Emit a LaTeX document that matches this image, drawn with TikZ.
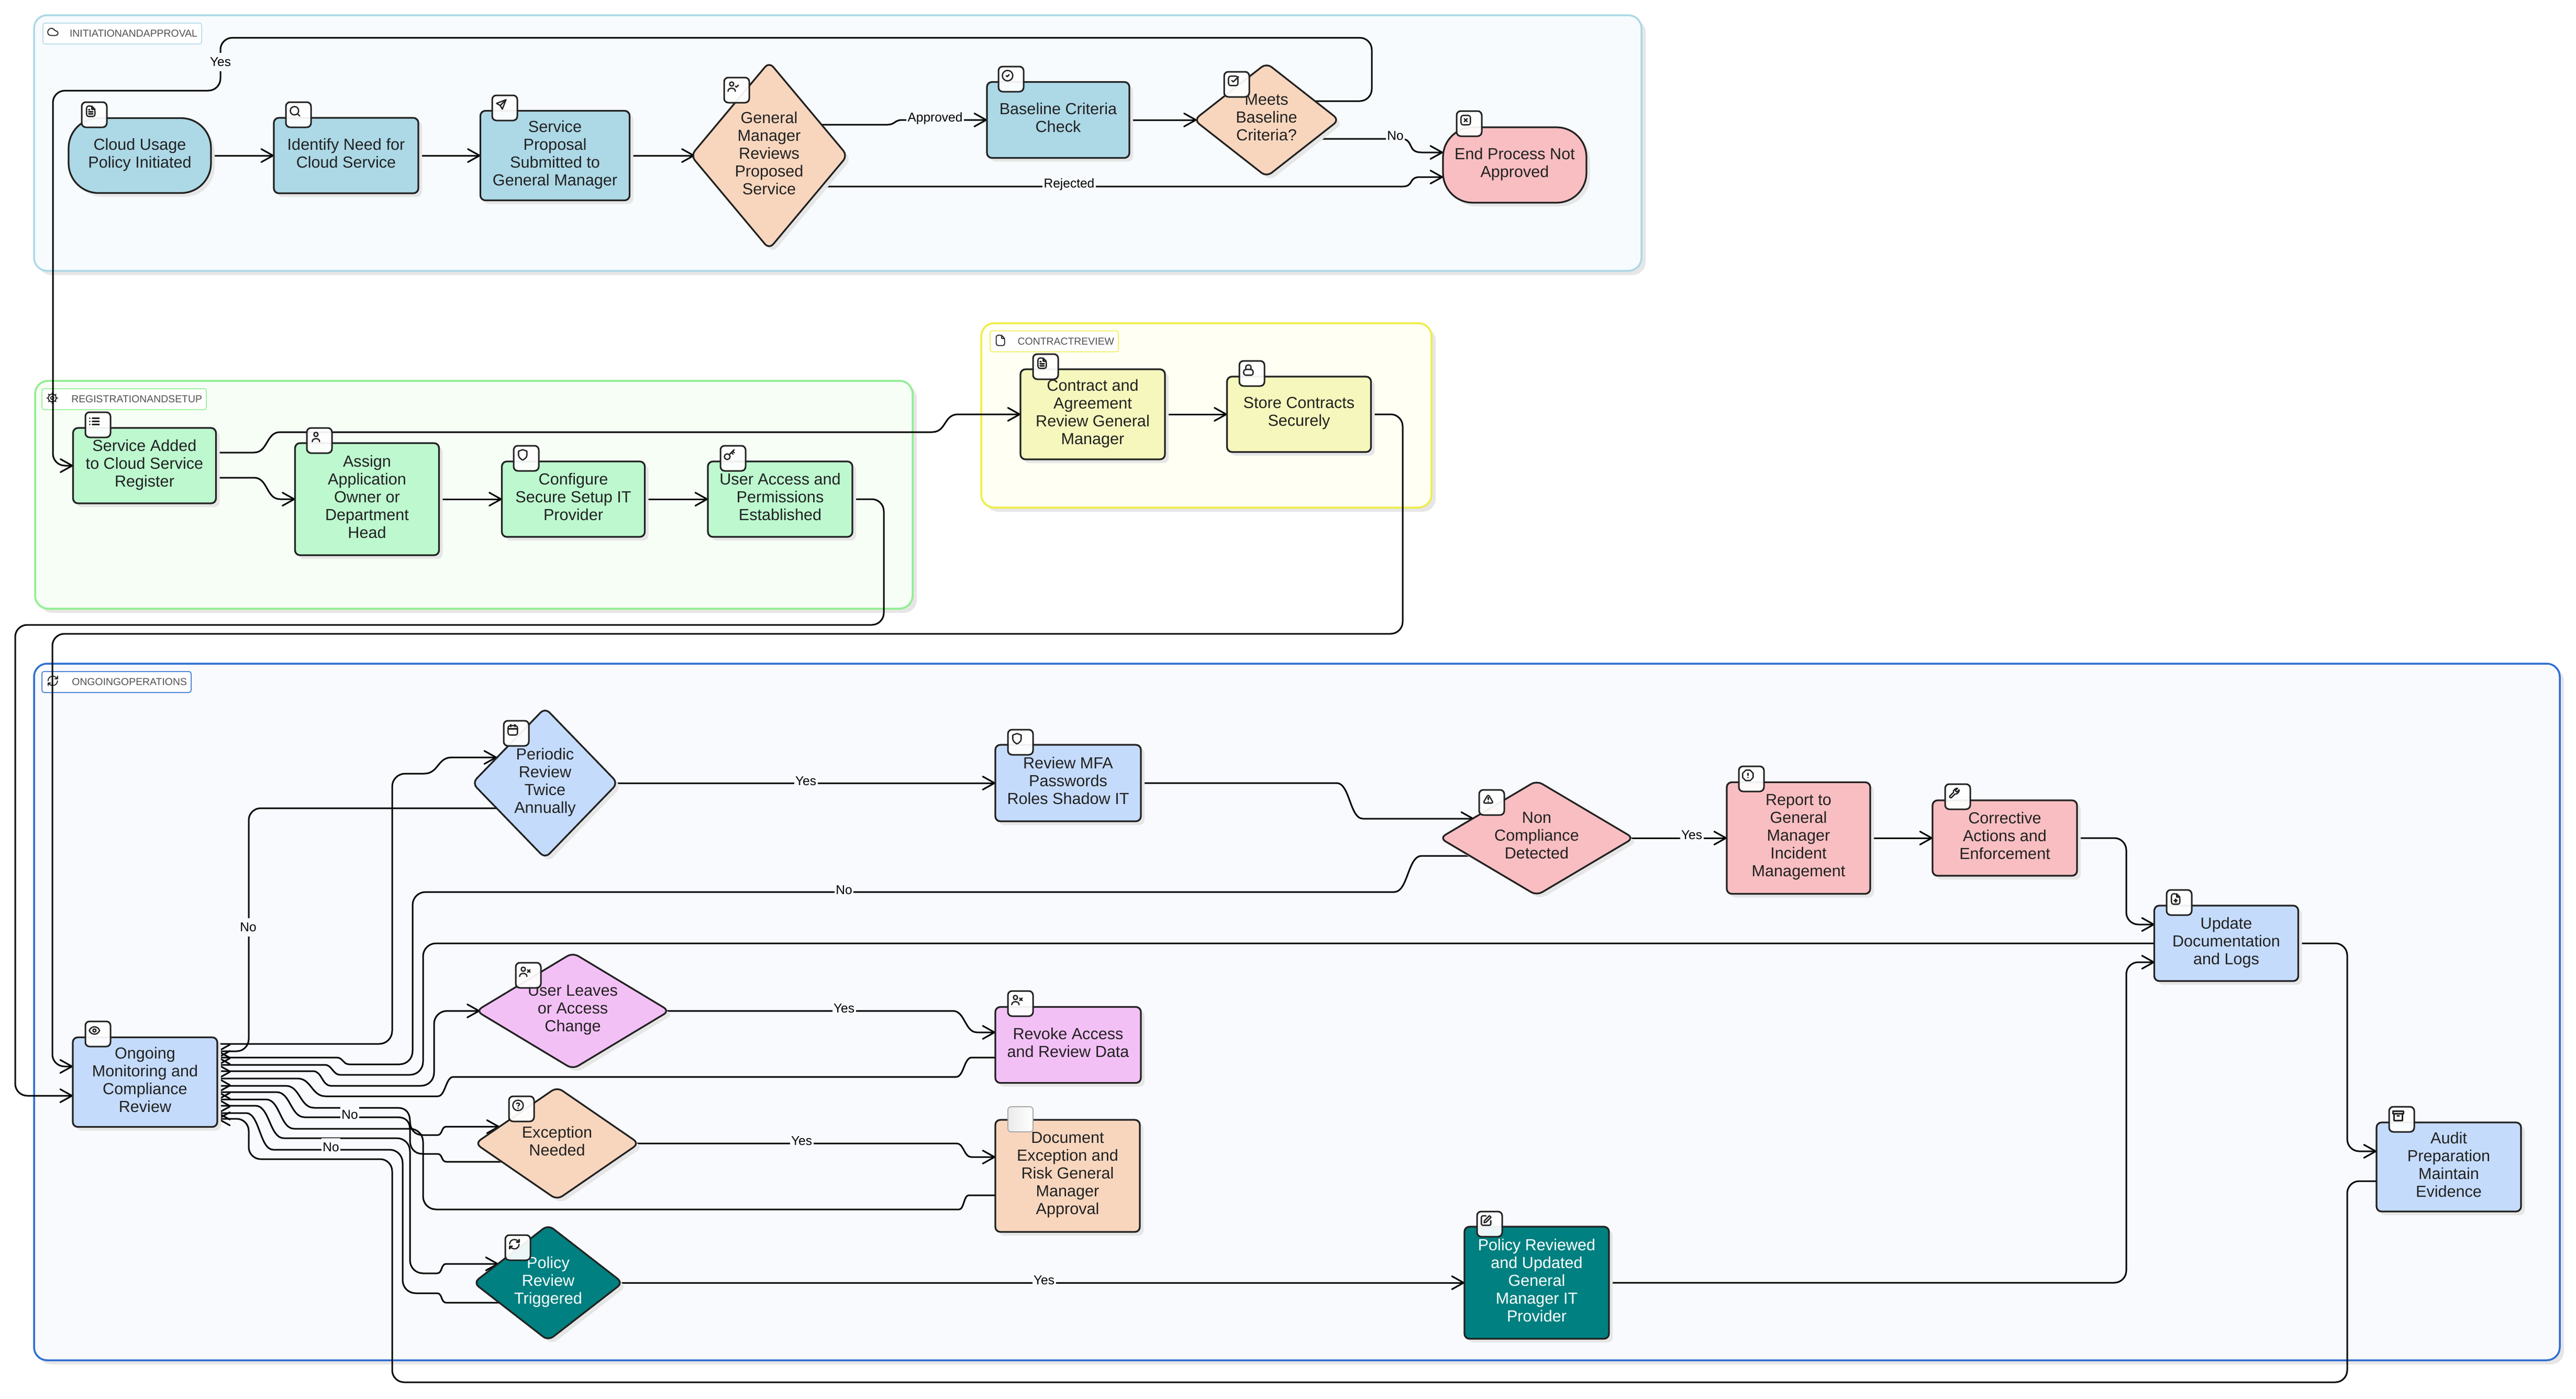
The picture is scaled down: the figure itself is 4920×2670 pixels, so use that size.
\documentclass[tikz,border=0pt]{standalone}
\usepackage{fontspec}
\setmainfont{Liberation Sans}
\usetikzlibrary{arrows.meta,shapes.geometric,shadows}
\definecolor{inkc}{HTML}{222222}
\definecolor{shadowc}{HTML}{E6E6E6}
\definecolor{cblue}{HTML}{ADD8E6}
\definecolor{cpeach}{HTML}{F8D6BE}
\definecolor{cred}{HTML}{F8BEC1}
\definecolor{cgreen}{HTML}{BDF8CF}
\definecolor{cyell}{HTML}{F5F7BC}
\definecolor{csky}{HTML}{C5DBFC}
\definecolor{cpink}{HTML}{F3C0F6}
\definecolor{cteal}{HTML}{008080}
\definecolor{gaf}{HTML}{F7FBFD}
\definecolor{gbf}{HTML}{F6FEF6}
\definecolor{gcf}{HTML}{FFFFF4}
\definecolor{gdf}{HTML}{F8FAFE}
\definecolor{gas}{HTML}{ADD8E6}
\definecolor{gbs}{HTML}{90EE90}
\definecolor{gcs}{HTML}{EEEE44}
\definecolor{gds}{HTML}{2F6FCF}
\pgfdeclarelayer{grp}
\pgfdeclarelayer{edg}
\pgfsetlayers{grp,edg,main}
\tikzset{
  nd/.style={draw=inkc,line width=.65pt,inner sep=0pt,outer sep=0pt,align=center,text=inkc,
    font=\fontsize{6.12}{6.8}\selectfont,
    execute at end node={\rule[-1.9pt]{0pt}{0pt}},
    drop shadow={shadow xshift=1.4pt,shadow yshift=-1.4pt,fill=shadowc,opacity=1}},
  rectn/.style 2 args={nd,rectangle,minimum width=#1*0.2pt,minimum height=#2*0.2pt,rounded corners=1.9pt},
  stadn/.style 2 args={nd,rectangle,minimum width=#1*0.2pt,minimum height=#2*0.2pt,rounded corners=11.4pt},
  diam/.style n args={3}{nd,diamond,shape aspect=#3,minimum width=#1*0.2pt,minimum height=#2*0.2pt,rounded corners=2.4pt},
  grpbox/.style n args={4}{rectangle,draw=#3,fill=#4,line width=.7pt,minimum width=#1*0.2pt,minimum height=#2*0.2pt,
    outer sep=0pt,inner sep=0pt,rounded corners=5pt,
    drop shadow={shadow xshift=1.6pt,shadow yshift=-1.6pt,fill=shadowc,opacity=1}},
  grplab/.style n args={3}{rectangle,draw=#2,fill=white,line width=.3pt,rounded corners=.8pt,
    text width=#1*0.2pt-3.2pt,inner xsep=1.6pt,inner ysep=0pt,minimum height=40*0.2pt,outer sep=0pt,
    align=right,text=#3,font=\fontsize{3.88}{4.6}\selectfont},
  iconbox/.style={rectangle,draw=inkc,fill=white,fill opacity=.93,line width=.6pt,minimum width=9.6pt,minimum height=9.6pt,
    inner sep=0pt,outer sep=0pt,rounded corners=1.6pt},
  blankbox/.style={rectangle,draw=black!35,left color=black!8,right color=white,line width=.35pt,minimum width=9.6pt,minimum height=9.6pt,
    inner sep=0pt,outer sep=0pt,rounded corners=1.2pt},
  glyph/.style={line width=.48pt,draw=inkc,line cap=round,line join=round},
  edge/.style={draw=black,line width=.6pt,line join=round,
    -{Straight Barb[length=4.5pt,width=5pt,round]}},
  rc/.style={rounded corners=4.6pt},
  elabel/.style={inner xsep=.5pt,inner ysep=0pt,minimum height=7pt,text=black,outer sep=0pt,
    font=\fontsize{4.9}{5.4}\selectfont},
  pics/ic-outline/.style={code={\draw[rounded corners=.8pt] (4,2)--(14,2)--(20,8)--(20,22)--(4,22)--cycle; \draw (14,2)--(14,8)--(20,8);}},
  pics/ic-doc/.style={code={\pic{ic-outline}; \draw (8,13)--(16,13) (8,17)--(16,17) (8,9)--(10,9);}},
  pics/ic-fileplus/.style={code={\pic{ic-outline}; \draw (12,12)--(12,18) (9,15)--(15,15);}},
  pics/ic-search/.style={code={\draw (11,11) circle[radius=8]; \draw (21,21)--(16.65,16.65);}},
  pics/ic-send/.style={code={\draw (21,3)--(3,10)--(10,14)--(14,21)--cycle; \draw (10,14)--(21,3);}},
  pics/ic-person/.style={code={\draw (9,7) circle[radius=4]; \draw (2,21) .. controls (2,17) and (5,15) .. (9,15) .. controls (13,15) and (16,17) .. (16,21);}},
  pics/ic-usercheck/.style={code={\pic{ic-person}; \draw (16,11)--(18,13)--(22,9);}},
  pics/ic-userx/.style={code={\pic{ic-person}; \draw (17,8)--(22,13) (22,8)--(17,13);}},
  pics/ic-user/.style={code={\draw (12,7) circle[radius=4]; \draw (5,21) .. controls (5,17) and (8,15) .. (12,15) .. controls (16,15) and (19,17) .. (19,21);}},
  pics/ic-circlecheck/.style={code={\draw (12,12) circle[radius=10]; \draw (9,12)--(11,14)--(15,10);}},
  pics/ic-squarecheck/.style={code={\draw[rounded corners=.8pt] (3,3) rectangle (21,21); \draw (9,11)--(12,14)--(22,4);}},
  pics/ic-squarex/.style={code={\draw[rounded corners=.8pt] (3,3) rectangle (21,21); \draw (9,9)--(15,15) (15,9)--(9,15);}},
  pics/ic-list/.style={code={\draw (8,6)--(21,6) (8,12)--(21,12) (8,18)--(21,18) (3,6)--(3.2,6) (3,12)--(3.2,12) (3,18)--(3.2,18);}},
  pics/ic-shield/.style={code={\draw (12,2)--(20,5)--(20,13) .. controls (20,18) and (12,22) .. (12,22) .. controls (12,22) and (4,18) .. (4,13) -- (4,5) -- cycle;}},
  pics/ic-key/.style={code={\draw (7.5,15.5) circle[radius=5.5]; \draw (21,2)--(11.4,11.6) (15.5,7.5)--(18.5,10.5) (18,5)--(21,8);}},
  pics/ic-lock/.style={code={\draw[rounded corners=.8pt] (3,11) rectangle (21,22); \draw (7,11)--(7,7) .. controls (7,0.5) and (17,0.5) .. (17,7) -- (17,11);}},
  pics/ic-eye/.style={code={\draw (2,12) .. controls (5,6) and (9,5) .. (12,5) .. controls (15,5) and (19,6) .. (22,12) .. controls (19,18) and (15,19) .. (12,19) .. controls (9,19) and (5,18) .. (2,12) -- cycle; \draw (12,12) circle[radius=3];}},
  pics/ic-calendar/.style={code={\draw[rounded corners=.8pt] (3,4) rectangle (21,22); \draw (16,2)--(16,6) (8,2)--(8,6) (3,10)--(21,10);}},
  pics/ic-help/.style={code={\draw (12,12) circle[radius=10]; \draw (9.1,9) .. controls (9.5,7) and (14.9,7) .. (15,10) .. controls (15,12) and (12,12) .. (12,13.5); \draw (12,17)--(12.1,17);}},
  pics/ic-refresh/.style={code={\draw (3,12) .. controls (3,7) and (7,3) .. (12,3) .. controls (15,3) and (17,4) .. (21,8); \draw (21,3)--(21,8)--(16,8); \draw (21,12) .. controls (21,17) and (17,21) .. (12,21) .. controls (9,21) and (7,20) .. (3,16); \draw (8,16)--(3,16)--(3,21);}},
  pics/ic-triangle/.style={code={\draw[rounded corners=.8pt] (12,3)--(22,20)--(2,20)--cycle; \draw (12,9)--(12,13) (12,17)--(12.1,17);}},
  pics/ic-octagon/.style={code={\draw (7.9,2)--(16.1,2)--(22,7.9)--(22,16.1)--(16.1,22)--(7.9,22)--(2,16.1)--(2,7.9)--cycle; \draw (12,8)--(12,12) (12,16)--(12.1,16);}},
  pics/ic-wrench/.style={code={\draw (14.7,6.3)--(14.7,7.7)--(16.3,9.3)--(17.7,9.3)--(21.47,5.53) .. controls (22,9) and (18,14.5) .. (13.53,13.47) -- (6.62,20.38) .. controls (5,22) and (2,19) .. (3.62,17.38) -- (10.53,10.47) .. controls (9.5,6) and (15,2) .. (18.47,2.53) -- cycle;}},
  pics/ic-archive/.style={code={\draw (2,3) rectangle (22,8); \draw (4,8)--(4,21)--(20,21)--(20,8); \draw (10,12)--(14,12);}},
  pics/ic-edit/.style={code={\draw (12,3)--(5,3)--(3,5)--(3,19)--(5,21)--(19,21)--(21,19)--(21,12); \draw (18.4,2.6)--(21.4,5.6)--(12,15)--(8,16)--(9,12)--cycle;}},
  pics/ic-cloud/.style={code={\draw (17.5,19)--(9,19) .. controls (4,19) and (1.5,15) .. (2.5,11) .. controls (3.5,6) and (10,3) .. (14,7) .. controls (15,8) and (16,10) .. (17.5,10) .. controls (23.5,10) and (23.5,19) .. (17.5,19) -- cycle;}},
  pics/ic-cog/.style={code={\draw (12,12) circle[radius=3]; \draw (12,12) circle[radius=7.5]; \foreach \a in {0,45,...,315} {\draw (12,12) ++(\a:7.5) -- ++(\a:2.8);}}},
}
\newcommand{\icn}[4]{\node[iconbox] (#1) at (#2,#3) {};
  \begin{scope}[shift={(#2,#3)},scale=1.55,shift={(-12,-12)},glyph]\pic{#4};\end{scope}}
\newcommand{\gly}[3]{\begin{scope}[shift={(#1,#2)},scale=1.35,shift={(-12,-12)},glyph,line width=.36pt]\pic{#3};\end{scope}}
\begin{document}
\begin{tikzpicture}[x=0.2pt,y=-0.2pt]
\begin{pgfonlayer}{grp}
\path[use as bounding box,fill=white] (0,0) rectangle (4920,2670);
\node[grpbox={3070}{488}{gas}{gaf}] (g1) at (1600,273) {};
\node[grpbox={1676}{435}{gbs}{gbf}] (g2) at (905,944.5) {};
\node[grpbox={860}{352}{gcs}{gcf}] (g3) at (2304,793) {};
\node[grpbox={4824}{1330}{gds}{gdf}] (g4) at (2477,1932) {};
\node[grplab={303}{gas}{black!68}] (l1) at (233.5,64) {INITIATIONANDAPPROVAL};
\node[grplab={314}{gbs}{black!68}] (l2) at (237,762) {REGISTRATIONANDSETUP};
\node[grplab={245}{gcs}{black!68}] (l3) at (2013.5,651.5) {CONTRACTREVIEW};
\node[grplab={285}{gds}{black!68}] (l4) at (222.5,1302) {ONGOINGOPERATIONS};
\gly{105}{65}{ic-cloud}
\gly{104}{764}{ic-cog}
\gly{1915}{654}{ic-outline}
\gly{105}{1304}{ic-refresh}
\end{pgfonlayer}

% nodes
\node[stadn={272}{143}, fill=cblue] (start) at (267,297) {Cloud Usage\\Policy Initiated};
\node[rectn={276}{144}, fill=cblue] (identify) at (661,297) {Identify Need for\\Cloud Service};
\node[rectn={285}{171}, fill=cblue] (proposal) at (1060,297) {Service\\Proposal\\Submitted to\\General Manager};
\node[diam={299}{357}{0.83}, fill=cpeach] (gmdec) at (1469,297) {General\\Manager\\Reviews\\Proposed\\Service};
\node[rectn={272}{145}, fill=cblue] (baseline) at (2021,229) {Baseline Criteria\\Check};
\node[diam={277}{217}{1.29}, fill=cpeach] (meets) at (2419,229) {Meets\\Baseline\\Criteria?};
\node[stadn={274}{144}, fill=cred] (endp) at (2893,315) {End Process Not\\Approved};
\node[rectn={273}{144}, fill=cgreen] (svcadd) at (276,889) {Service Added\\to Cloud Service\\Register};
\node[rectn={275}{214}, fill=cgreen] (assign) at (701,953) {Assign\\Application\\Owner or\\Department\\Head};
\node[rectn={273}{144}, fill=cgreen] (config) at (1095,953) {Configure\\Secure Setup IT\\Provider};
\node[rectn={276}{144}, fill=cgreen] (useraccess) at (1490,953) {User Access and\\Permissions\\Established};
\node[rectn={276}{172}, fill=cyell] (contract) at (2087,791) {Contract and\\Agreement\\Review General\\Manager};
\node[rectn={275}{144}, fill=cyell] (store) at (2481,791) {Store Contracts\\Securely};
\node[rectn={276}{171}, fill=csky] (ongoing) at (277,2066) {Ongoing\\Monitoring and\\Compliance\\Review};
\node[diam={278}{287}{0.97}, fill=csky] (periodic) at (1041,1495) {Periodic\\Review\\Twice\\Annually};
\node[rectn={278}{146}, fill=csky] (reviewmfa) at (2040,1495) {Review MFA\\Passwords\\Roles Shadow IT};
\node[diam={370}{219}{1.68}, fill=cred] (noncomp) at (2935,1600) {Non\\Compliance\\Detected};
\node[rectn={274}{213}, fill=cred] (report) at (3435,1600) {Report to\\General\\Manager\\Incident\\Management};
\node[rectn={276}{144}, fill=cred] (corrective) at (3829,1600) {Corrective\\Actions and\\Enforcement};
\node[rectn={275}{144}, fill=csky] (update) at (4252,1801) {Update\\Documentation\\and Logs};
\node[rectn={276}{170}, fill=csky] (audit) at (4677,2228) {Audit\\Preparation\\Maintain\\Evidence};
\node[diam={369}{222}{1.68}, fill=cpink] (userleaves) at (1094,1930) {User Leaves\\or Access\\Change};
\node[rectn={278}{145}, fill=cpink] (revoke) at (2040,1995) {Revoke Access\\and Review Data};
\node[diam={313}{215}{1.47}, fill=cpeach] (exception) at (1064,2183) {Exception\\Needed};
\node[rectn={276}{214}, fill=cpeach] (document) at (2039,2245) {Document\\Exception and\\Risk General\\Manager\\Approval};
\node[diam={285}{221}{1.29}, fill=cteal, text=white] (policy) at (1047,2449) {Policy\\Review\\Triggered};
\node[rectn={276}{214}, fill=cteal, text=white] (polrev) at (2935,2449) {Policy Reviewed\\and Updated\\General\\Manager IT\\Provider};

% icons
\icn{i1}{180}{219}{ic-doc}
\icn{i2}{570}{219}{ic-search}
\icn{i3}{964}{206}{ic-send}
\icn{i4}{1407}{172}{ic-usercheck}
\icn{i5}{1931}{151}{ic-circlecheck}
\icn{i6}{2362}{161}{ic-squarecheck}
\icn{i7}{2806}{236}{ic-squarex}
\icn{i8}{187}{811}{ic-list}
\icn{i9}{610}{841}{ic-user}
\icn{i10}{1005}{875}{ic-shield}
\icn{i11}{1400}{875}{ic-key}
\icn{i12}{1997}{700}{ic-doc}
\icn{i13}{2391}{713}{ic-lock}
\icn{i14}{187}{1974}{ic-eye}
\icn{i15}{986}{1400}{ic-calendar}
\icn{i16}{1949}{1417}{ic-shield}
\icn{i17}{2849}{1532}{ic-triangle}
\icn{i18}{3345}{1487}{ic-octagon}
\icn{i19}{3739}{1521}{ic-wrench}
\icn{i20}{4162}{1723}{ic-fileplus}
\icn{i21}{4587}{2137}{ic-archive}
\icn{i22}{1009}{1862}{ic-userx}
\icn{i23}{1949}{1916}{ic-userx}
\icn{i24}{996}{2117}{ic-help}
\node[blankbox] (i25) at (1949,2137) {};
\icn{i26}{989}{2382}{ic-refresh}
\icn{i27}{2845}{2337}{ic-edit}

% connectors
\begin{pgfonlayer}{edg}
\draw[edge] (start.east) -- (identify.west);
\draw[edge] (identify.east) -- (proposal.west);
\draw[edge] (proposal.east) -- ([shift={(7,0)}]gmdec.west);
\draw[edge] ([shift={(97,-59)}]gmdec.center) -- (1695,238) .. controls (1710,238) and (1708,229) .. (1723,229) -- (baseline.west);
\draw[edge] ([shift={(97,59)}]gmdec.center) -- (2680,356) .. controls (2700,356) and (2690,338) .. (2712,338) -- ([shift={(-137,23)}]endp.center);
\draw[edge] (baseline.center) -- ([shift={(5,0)}]meets.west);
\draw[edge] ([shift={(96,36)}]meets.center) -- (2675,265) .. controls (2702,265) and (2686,291) .. (2715,291) -- ([shift={(-137,-24)}]endp.center);
\draw[edge,rc] ([shift={(91,-36)}]meets.center) -- (2620,193) -- (2620,72) -- (421,72) -- (421,173) -- (101,173) -- (101,889) -- (svcadd.west);
\draw[edge] ([shift={(137,23)}]svcadd.center) -- (485,912) .. controls (512,912) and (508,953) .. (535,953) -- (assign.west);
\draw[edge] ([shift={(137,-25)}]svcadd.center) -- (485,864) .. controls (512,864) and (508,825) .. (535,825) -- (1780,825) .. controls (1808,825) and (1802,791) .. (1830,791) -- (contract.west);
\draw[edge] (assign.east) -- (config.west);
\draw[edge] (config.east) -- (useraccess.west);
\draw[edge] (contract.east) -- (store.west);
\draw[edge,rc] (useraccess.east) -- (1688,953) -- (1688,1193) -- (29,1193) -- (29,2092) -- ([shift={(-138,26)}]ongoing.center);
\draw[edge,rc] (store.east) -- (2679,791) -- (2679,1210) -- (100,1210) -- (100,2036) -- ([shift={(-138,-30)}]ongoing.center);
% ongoing fan
\draw[edge] ([shift={(138,-73)}]ongoing.center) -- (724,1993) .. controls (738,1993) and (749,1982) .. (749,1968) -- (749,1502) .. controls (749,1488) and (760,1477) .. (774,1477) -- (810,1477) .. controls (838,1477) and (835,1446) .. (863,1446) -- ([shift={(-92,-49)}]periodic.center);
\draw[edge,rc] ([shift={(-93,48)}]periodic.center) -- (475,1543) -- (475,2007) -- ([shift={(138,-59)}]ongoing.center);
\draw[edge] ([shift={(-128,34)}]noncomp.center) -- (2715,1634) .. controls (2689,1634) and (2689,1703) .. (2663,1703) -- (813,1703) .. controls (799,1703) and (788,1714) .. (788,1728) -- (788,2007) .. controls (788,2021) and (777,2032) .. (763,2032) -- (667,2032) .. controls (655,2032) and (655,2019) .. (643,2019) -- ([shift={(138,-47)}]ongoing.center);
\draw[edge] (update.west) -- (833,1801) .. controls (819,1801) and (808,1812) .. (808,1826) -- (808,2027) .. controls (808,2041) and (797,2052) .. (783,2052) -- (650,2052) .. controls (635,2052) and (635,2033) .. (620,2033) -- ([shift={(138,-33)}]ongoing.center);
\draw[edge] ([shift={(138,-21)}]ongoing.center) -- (598,2045) .. controls (615,2045) and (615,2073) .. (632,2073) -- (804,2073) .. controls (818,2073) and (829,2062) .. (829,2048) -- (829,1955) .. controls (829,1941) and (840,1930) .. (854,1930) -- ([shift={(7,0)}]userleaves.west);
\draw[edge] ([shift={(-139,24)}]revoke.center) -- (1856,2019) .. controls (1841,2019) and (1841,2056) .. (1826,2056) -- (866,2056) .. controls (851,2056) and (851,2093) .. (836,2093) -- (622,2093) .. controls (595,2093) and (595,2059) .. (568,2059) -- ([shift={(138,-7)}]ongoing.center);
\draw[edge] ([shift={(138,7)}]ongoing.center) -- (546,2073) .. controls (573,2073) and (573,2115) .. (600,2115) -- (760,2115) .. controls (775,2115) and (783,2125) .. (783,2140) .. controls (783,2156) and (792,2167) .. (807,2167) -- (836,2167) .. controls (845,2167) and (843,2151) .. (852,2151) -- ([shift={(-110,-32)}]exception.center);
\draw[edge] ([shift={(-98,35)}]exception.center) -- (852,2218) .. controls (843,2218) and (845,2203) .. (836,2203) -- (807,2203) .. controls (792,2203) and (783,2192) .. (783,2178) -- (783,2156) .. controls (783,2142) and (775,2133) .. (760,2133) -- (582,2133) .. controls (555,2133) and (555,2085) .. (528,2085) -- ([shift={(138,19)}]ongoing.center);
\draw[edge] ([shift={(-138,37)}]document.center) -- (1850,2282) .. controls (1841,2282) and (1841,2309) .. (1832,2309) -- (833,2309) .. controls (819,2309) and (808,2298) .. (808,2284) -- (808,2180) .. controls (808,2166) and (797,2155) .. (783,2155) -- (562,2155) .. controls (535,2155) and (535,2099) .. (508,2099) -- ([shift={(138,33)}]ongoing.center);
\draw[edge] ([shift={(138,45)}]ongoing.center) -- (488,2111) .. controls (515,2111) and (515,2173) .. (542,2173) -- (758,2173) .. controls (772,2173) and (783,2184) .. (783,2198) -- (783,2406) .. controls (783,2420) and (794,2431) .. (808,2431) -- (835,2431) .. controls (845,2431) and (842,2413) .. (852,2413) -- ([shift={(-95,-36)}]policy.center);
\draw[edge] ([shift={(-88,38)}]policy.center) -- (852,2487) .. controls (842,2487) and (845,2469) .. (835,2469) -- (794,2469) .. controls (780,2469) and (769,2458) .. (769,2444) -- (769,2220) .. controls (769,2206) and (758,2195) .. (744,2195) -- (522,2195) .. controls (496,2195) and (496,2125) .. (470,2125) -- ([shift={(138,59)}]ongoing.center);
\draw[edge,rc] ([shift={(-138,27)}]audit.center) -- (4483,2255) -- (4483,2639) -- (749,2639) -- (749,2213) -- (475,2213) -- (475,2136) -- ([shift={(138,70)}]ongoing.center);
% operations
\draw[edge] (periodic.center) -- (reviewmfa.west);
\draw[edge] (reviewmfa.east) -- (2553,1495) .. controls (2578,1495) and (2578,1563) .. (2603,1563) -- ([shift={(-120,-37)}]noncomp.center);
\draw[edge] (noncomp.center) -- (report.west);
\draw[edge] (report.east) -- (corrective.west);
\draw[edge,rc] (corrective.east) -- (4061,1600) -- (4061,1765) -- ([shift={(-137,-36)}]update.center);
\draw[edge,rc] (polrev.east) -- (4061,2449) -- (4061,1837) -- ([shift={(-137,36)}]update.center);
\draw[edge,rc] (update.east) -- (4483,1801) -- (4483,2198) -- ([shift={(-138,-30)}]audit.center);
\draw[edge] (userleaves.center) -- (1820,1930) .. controls (1843,1930) and (1843,1971) .. (1866,1971) -- ([shift={(-139,-24)}]revoke.center);
\draw[edge] (exception.center) -- (1827,2183) .. controls (1841,2183) and (1841,2209) .. (1855,2209) -- ([shift={(-138,-36)}]document.center);
\draw[edge] (policy.center) -- (polrev.west);
\end{pgfonlayer}

% edge labels
\node[elabel,fill=gaf] (y1) at (421,118) {Yes};
\node[elabel,fill=gaf] (a1) at (1786,226) {Approved};
\node[elabel,fill=gaf] (r1) at (2042,352) {Rejected};
\node[elabel,fill=gaf] (n1) at (2665,259) {No};
\node[elabel,fill=gdf] (n2) at (474,1770) {No};
\node[elabel,fill=gdf] (n3) at (1612,1699) {No};
\node[elabel,fill=gdf] (n4) at (668,2128) {No};
\node[elabel,fill=gdf] (n5) at (632,2190) {No};
\node[elabel,fill=gdf] (y2) at (1539,1491) {Yes};
\node[elabel,fill=gdf] (y3) at (3231,1594) {Yes};
\node[elabel,fill=gdf] (y4) at (1612,1925) {Yes};
\node[elabel,fill=gdf] (y5) at (1531,2178) {Yes};
\node[elabel,fill=gdf] (y6) at (1994,2444) {Yes};
\end{tikzpicture}
\end{document}
